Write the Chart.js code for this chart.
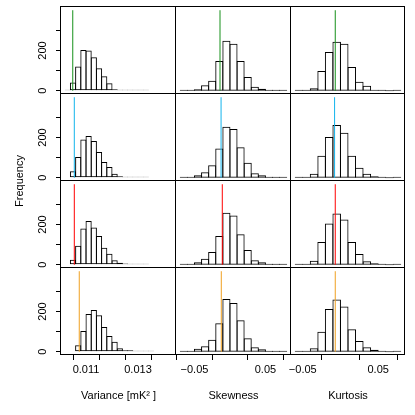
<!DOCTYPE html>
<html><head><meta charset="utf-8">
<script src="https://cdn.jsdelivr.net/npm/chart.js@4.4.1/dist/chart.umd.min.js"></script>
<style>
html,body{margin:0;padding:0;background:#fff;}
#wrap{position:relative;width:415px;height:415px;background:#fff;}
#wrap canvas{position:absolute;left:0;top:0;}
</style></head><body><div id="wrap"></div>
<script>
// ---------- data ----------
const columnTitles = ['Variance [mK² ]', 'Skewness', 'Kurtosis'];
const yAxisTitle = 'Frequency';
const rowColors = ['#16901a', '#12b4ec', '#ff0000', '#f0a020'];

const yTicks = [0, 100, 200, 300];
const yTickLabels = ['0', '', '200', ''];
const varTicks = [0.011, 0.012, 0.013, 0.014];
const varTickLabels = ['0.011', '', '0.013', ''];
const skewTicks = [-0.05, 0, 0.05];
const skewTickLabels = ['\u22120.05', '', '0.05'];
const kurtTicks = [-0.05, 0, 0.05];
const kurtTickLabels = ['\u22120.05', '', '0.05'];

const varBinWidth = 0.0002;
const skewBinWidth = 0.01;
const kurtBinWidth = 0.01;
const varBinStart = [0.0102, 0.0104, 0.0104, 0.0106];
const skewBinStart = [-0.07, -0.07, -0.07, -0.07];
const kurtBinStart = [-0.06, -0.06, -0.06, -0.06];

const varCountsRow1 = [5, 41, 120, 203, 200, 167, 112, 72, 37, 8, 4, 3, 2, 1, 1, 1];
const varCountsRow2 = [32, 103, 190, 207, 183, 128, 78, 53, 20, 8, 3, 2, 1, 1, 1];
const varCountsRow3 = [25, 95, 180, 218, 185, 143, 85, 55, 22, 10, 6, 2, 1, 1, 1];
const varCountsRow4 = [33, 103, 187, 208, 182, 123, 78, 50, 17, 8, 7, 3, 2, 1, 1];

const skewCountsRow1 = [1, 5, 8, 28, 50, 148, 248, 233, 148, 68, 20, 10, 4, 2, 1];
const skewCountsRow2 = [1, 3, 12, 28, 62, 145, 253, 242, 152, 75, 22, 12, 3, 1, 1];
const skewCountsRow3 = [1, 3, 13, 30, 63, 143, 258, 245, 152, 73, 22, 13, 5, 2, 1];
const skewCountsRow4 = [2, 5, 15, 28, 60, 142, 262, 242, 157, 67, 23, 12, 3, 1, 1];

const kurtCountsRow1 = [2, 3, 13, 98, 192, 243, 233, 118, 45, 25, 5, 2, 0, 1];
const kurtCountsRow2 = [1, 3, 20, 110, 203, 262, 223, 110, 50, 20, 8, 2, 0, 1];
const kurtCountsRow3 = [1, 2, 20, 113, 205, 255, 225, 113, 53, 18, 8, 2, 0, 1];
const kurtCountsRow4 = [1, 3, 17, 100, 212, 260, 225, 112, 53, 23, 10, 3, 0, 1];

const varMarkers = [0.01049, 0.01055, 0.01055, 0.01074];
const skewMarkers = [-0.014, -0.0125, -0.0108, -0.0122];
const kurtMarkers = [-0.0069, -0.0078, -0.0069, -0.0069];
const markerHeight = 400;

const varRange = [0.010038, 0.014461];
const skewRange = [-0.076, 0.086];
const kurtRange = [-0.0656, 0.0856];
const countRange = [-16, 416];

// ---------- layout ----------
const X_EDGES = [61, 176, 291, 405];
const Y_EDGES = [7, 94, 181, 268, 355];
const FONT = { family: "'Liberation Sans', Arial, Helvetica, sans-serif", size: 11 };
const Y_AXIS_W = 40;
const X_AXIS_H = 50;

const columns = [
  { ticks: varTicks, labels: varTickLabels, bw: varBinWidth, starts: varBinStart,
    counts: [varCountsRow1, varCountsRow2, varCountsRow3, varCountsRow4], markers: varMarkers, range: varRange },
  { ticks: skewTicks, labels: skewTickLabels, bw: skewBinWidth, starts: skewBinStart,
    counts: [skewCountsRow1, skewCountsRow2, skewCountsRow3, skewCountsRow4], markers: skewMarkers, range: skewRange },
  { ticks: kurtTicks, labels: kurtTickLabels, bw: kurtBinWidth, starts: kurtBinStart,
    counts: [kurtCountsRow1, kurtCountsRow2, kurtCountsRow3, kurtCountsRow4], markers: kurtMarkers, range: kurtRange }
];

const boxPlugin = {
  id: 'panelBox',
  afterDraw(chart) {
    const a = chart.chartArea, ctx = chart.ctx;
    ctx.save();
    ctx.strokeStyle = '#000';
    ctx.lineWidth = 1;
    ctx.strokeRect(Math.round(a.left) - 0.5, Math.round(a.top) - 0.5,
                   Math.round(a.right) - Math.round(a.left), Math.round(a.bottom) - Math.round(a.top));
    ctx.restore();
  }
};

function zeroPad(s) { s.paddingTop = 0; s.paddingBottom = 0; s.paddingLeft = 0; s.paddingRight = 0; }

const wrap = document.getElementById('wrap');
function newCanvas() {
  const cv = document.createElement('canvas');
  cv.width = 415; cv.height = 415;
  cv.style.width = '415px'; cv.style.height = '415px';
  wrap.appendChild(cv);
  return cv;
}

function makePanel(r, c) {
  const col = columns[c];
  const counts = col.counts[r];
  const start = col.starts[r];
  const bw = col.bw;
  const bars = counts.map((n, i) => ({ x: start + (i + 0.5) * bw, y: n }));
  const marker = [{ x: col.markers[r], y: 0 }, { x: col.markers[r], y: markerHeight }];
  const left = X_EDGES[c], right = X_EDGES[c + 1], top = Y_EDGES[r], bottom = Y_EDGES[r + 1];
  const showY = c === 0, showX = r === 3;
  const binPx = (right - left) * bw / (col.range[1] - col.range[0]);
  const cfg = {
    type: 'bar',
    data: {
      datasets: [
        { type: 'line', data: marker, borderColor: rowColors[r], borderWidth: 1, pointRadius: 0,
          fill: false, order: 0 },
        { type: 'bar', data: bars, backgroundColor: 'rgba(255,255,255,0)', borderColor: '#000',
          borderWidth: 1, borderSkipped: false, inflateAmount: 0, minBarLength: 1,
          barPercentage: (binPx + 1) / binPx, categoryPercentage: 1, grouped: false, order: 1 }
      ]
    },
    options: {
      responsive: false, animation: false, devicePixelRatio: 1,
      layout: { padding: {
        left: showY ? left - Y_AXIS_W : left,
        right: 415 - right,
        top: top,
        bottom: showX ? 415 - bottom - X_AXIS_H : 415 - bottom } },
      plugins: { legend: { display: false }, tooltip: { enabled: false } },
      scales: {
        x: {
          type: 'linear', min: col.range[0], max: col.range[1], offset: false, display: showX,
          afterBuildTicks: s => { s.ticks = col.ticks.map(v => ({ value: v })); },
          afterFit: s => { s.height = showX ? X_AXIS_H : 0; zeroPad(s); },
          ticks: { autoSkip: false, maxRotation: 0, minRotation: 0, color: '#000', font: FONT, padding: 3,
                   callback: (v, i) => col.labels[i] },
          grid: { display: true, drawOnChartArea: false, drawTicks: true, tickLength: 5, color: '#000', lineWidth: 1 },
          border: { display: false },
          title: { display: true, text: columnTitles[c], color: '#000', font: FONT, padding: { top: 0, bottom: 2 } }
        },
        y: {
          type: 'linear', min: countRange[0], max: countRange[1], display: showY,
          afterBuildTicks: s => { s.ticks = yTicks.map(v => ({ value: v })); },
          afterFit: s => { s.width = showY ? Y_AXIS_W : 0; zeroPad(s); },
          ticks: { autoSkip: false, minRotation: 90, maxRotation: 90, crossAlign: 'center', color: '#000',
                   font: FONT, padding: 4, callback: (v, i) => yTickLabels[i] },
          grid: { display: true, drawOnChartArea: false, drawTicks: true, tickLength: 5, color: '#000', lineWidth: 1 },
          border: { display: false }
        }
      }
    },
    plugins: [boxPlugin]
  };
  new Chart(newCanvas(), cfg);
}

for (let r = 0; r < 4; r++) for (let c = 0; c < 3; c++) makePanel(r, c);

// overall y-axis title
new Chart(newCanvas(), {
  type: 'bar',
  data: { datasets: [] },
  options: {
    responsive: false, animation: false, devicePixelRatio: 1,
    layout: { padding: { left: 10, right: 415 - X_EDGES[3], top: Y_EDGES[0], bottom: 415 - Y_EDGES[4] } },
    plugins: { legend: { display: false }, tooltip: { enabled: false } },
    scales: {
      x: { type: 'linear', min: 0, max: 1, display: false, afterFit: s => { s.height = 0; zeroPad(s); } },
      y: { type: 'linear', min: 0, max: 1, display: true,
           afterFit: s => { s.width = 20; zeroPad(s); },
           ticks: { display: false }, grid: { display: false }, border: { display: false },
           title: { display: true, text: yAxisTitle, color: '#000', font: FONT, padding: { top: 3, bottom: 0 } } }
    }
  }
});
</script></body></html>
